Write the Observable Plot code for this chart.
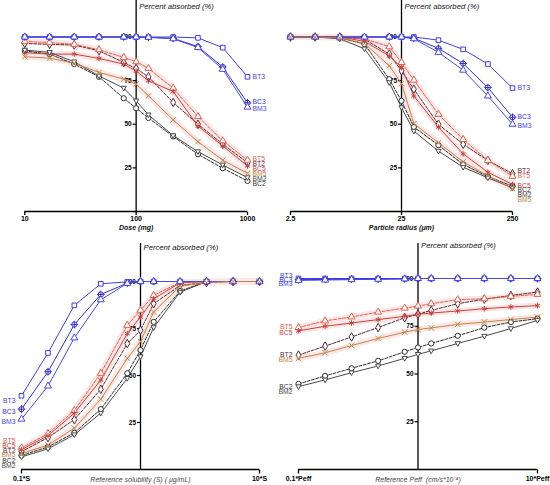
<!DOCTYPE html>
<html><head><meta charset="utf-8">
<script src="https://cdn.jsdelivr.net/npm/d3@7"></script>
<script src="https://cdn.jsdelivr.net/npm/@observablehq/plot@0.6"></script>
<style>
body{margin:0;background:#fff;}
#grid{display:grid;grid-template-columns:275px 275px;width:550px;font-family:"Liberation Sans",Arial,sans-serif;}
#grid svg{display:block;overflow:visible;}
</style></head><body><div id="grid"></div>
<script>
const series = ["BT2","BT3","BT5","BC2","BC3","BC5","BM2","BM3","BM5"];
const yTicks = [25, 50, 75, 100];

// Panel A: dose
const doseMg = [10, 16.7, 27.8, 46.4, 77.4, 100, 129, 215, 359, 599, 1000];
const doseAbs = {
  BT3: [100,100,100,100,100,100,100,100,99.5,93.9,77.2],
  BC3: [100,100,100,100,100,100,99.8,99.2,94.5,82.8,62.3],
  BM3: [100,100,100,100,100,100,99.8,99,94,81.5,59.8],
  BT5: [97.5,96.8,95.8,92.7,88.3,85.8,82,70.7,54.4,40.5,29.4],
  BT2: [96.3,95.8,95.4,92.1,85.4,82,77.2,62.5,50,38.6,28],
  BC5: [91,90.2,90.2,87.7,84.5,80.5,74.9,68.8,49,37.6,26.1],
  BM5: [88.7,87.9,85,79.7,75.9,73,66.3,52.5,40,29.4,21.9],
  BM2: [92.5,91.2,85.8,77.7,70.7,63.4,55.4,43.5,34.3,26.7,19.4],
  BC2: [92,90.2,84.5,77.2,64.9,59.2,53.6,43,32.8,24.8,17.5]
};
const doseTickLabels = ["10", "100", "1000"];
const doseLabelAt = {BT3:77.4, BC3:62.6, BM3:58.9, BT5:30.4, BT2:27.5, BC5:24.6, BM5:21.8, BM2:18.9, BC2:16};

// Panel B: particle radius
const radiusUm = [2.5, 4.17, 6.95, 11.6, 19.4, 25, 32.3, 53.8, 89.8, 150, 250];
const radiusAbs = {
  BT3: [100,100,100,100,100,100,100,98.2,92.9,84.5,70.7],
  BC3: [100,100,100,100,100,100,99.3,93.5,84.8,71,54],
  BM3: [100,100,100,100,100,100,99,91.2,81,66.2,50],
  BT5: [100,100,100,99,94.4,85.4,75.3,55.7,41.3,29.3,20.2],
  BT2: [100,100,100,98.8,90.2,80.6,70.1,50,38.5,29.3,21.6],
  BC5: [100,100,100,97.5,89.2,82.5,66.2,48.4,33,22.5,15.5],
  BM5: [100,100,99.5,96.3,83.5,73.3,50.3,39.4,28.5,20.5,13],
  BC2: [100,100,99.5,96,75.8,63.4,48.4,38,27,20,14.5],
  BM2: [100,100,99,93.2,73.9,59.5,46.1,34.6,25.4,19.3,13.5]
};
const radiusTickLabels = ["2.5", "25", "250"];
const radiusLabelAt = {BT3:70.9, BC3:54, BM3:49.3, BT2:23.3, BT5:20.6, BC5:14.9, BC2:12.4, BM2:9.7, BM5:6.6};

// Panel C: reference solubility multiple
const solubilityS = [0.1, 0.167, 0.278, 0.464, 0.774, 1, 1.29, 2.15, 3.59, 5.99, 10];
const solubilityAbs = {
  BT3: [39.2,62,87.3,98.8,99.8,100,100,100,100,100,100],
  BC3: [32.1,52,77.1,93.1,99.1,100,100,100,100,100,100],
  BM3: [26.8,44.4,70,90.3,99,100,100,100,100,100,100],
  BT5: [11.5,19,31.4,51.2,76.7,84.7,92.6,99.6,100,100,100],
  BC5: [10.6,18,30,47.6,72.3,81.1,90.8,99.3,100,100,100],
  BT2: [9.5,17,26.5,42.7,67,74.1,88.2,97.9,99.5,100,100],
  BM5: [8.5,13,22,37.4,59.1,68,83.8,97.5,99.5,100,100],
  BC2: [7.5,12,19.5,32.1,51.2,63.5,78.5,94.9,100,100,100],
  BM2: [6.7,11,18.5,30,48.5,60,75.5,94.3,100,100,100]
};
const solubilityTickLabels = ["0.1*S", "10*S"];
const solubilityLabelAt = {BT3:36.7, BC3:30.5, BM3:25.2, BT5:15, BC5:12.5, BT2:9.9, BM5:7.7, BC2:4.8, BM2:1.9};

// Panel D: reference Peff multiple
const peffX = [0.1, 0.167, 0.278, 0.464, 0.774, 1, 1.29, 2.15, 3.59, 5.99, 10];
const peffAbs = {
  BT3: [100,100,100,100,100,100,100,100,100,100,100],
  BC3: [99.4,99.5,99.6,99.7,99.8,100,100,100,100,100,100],
  BM3: [99,99.2,99.4,99.6,99.8,100,100,100,100,100,100],
  BT5: [74.3,77.8,79.9,82.4,84.5,85.6,86.8,88.9,89.4,90.6,91.7],
  BC5: [72.6,75,76.7,78.5,80.2,81.3,81.9,83,84.2,85.1,85.8],
  BT2: [59.9,64.6,69.4,74.3,79.5,81.3,83.3,86.8,89.2,91.1,92.9],
  BM5: [58.2,61.1,64.9,68.6,71.9,73.3,74.1,76,77.2,78.5,79.8],
  BC2: [44.8,49,53,56.9,61.6,63.9,66,70,74.3,77.2,79],
  BM2: [43.4,46.9,50.7,54.2,58.2,60.3,62.1,66,69.8,73.8,78.1]
};
const peffTickLabels = ["0.1*Peff", "10*Peff"];
const peffLabelAt = {BT3:101.2, BC3:99.5, BM3:97.2, BT5:74.5, BC5:71.8, BT2:60.1, BM5:57.4, BC2:43.1, BM2:40.5};

// styles
const triDown = {draw(ctx, size){ const r = Math.sqrt(size/Math.PI); ctx.moveTo(-r,-r*0.7); ctx.lineTo(r,-r*0.7); ctx.lineTo(0,r*1.1); ctx.closePath(); }};
const leftTick = {draw(ctx){ ctx.moveTo(-3.5,0); ctx.lineTo(0,0); }};
const downTick = (len) => ({draw(ctx){ ctx.moveTo(0,0); ctx.lineTo(0,len); }});
const style = {
  BT2:{color:"#5a2b33", dash:"3,1.5", sym:["diamond"]},
  BT3:{color:"#3f3fe0", sym:["square"]},
  BT5:{color:"#e0624f", dash:"3,1.5", sym:["triangle"]},
  BC2:{color:"#2f2f2f", dash:"3,1.5", sym:["circle"]},
  BC3:{color:"#3232c8", sym:["circle","plus"]},
  BC5:{color:"#c8413a", sym:["asterisk"]},
  BM2:{color:"#4a4a4a", sym:[triDown]},
  BM3:{color:"#4848e6", sym:["triangle"]},
  BM5:{color:"#c0874a", sym:["times"]}
};

function buildPanel(cfg){
  const xc = cfg.center;
  const xs = cfg.xs;
  const xEnd = cfg.labelSide === "right" ? xs[xs.length-1] : xs[0];
  const rows = s => cfg.abs[s].map((v,i) => ({x: xs[i], y: v}));
  const tickRows = cfg.axisTicks.map((v,i) => ({v, label: cfg.tickLabels[i]}));
  const marks = [];
  for (const s of ["BT5","BC5","BM5"]) marks.push(Plot.line(rows(s), {x:"x", y:"y", stroke:"#fce6e6", strokeWidth:6, strokeLinejoin:"round"}));
  marks.push(Plot.ruleY([0], {stroke:"#000", strokeWidth:1.6}));
  marks.push(Plot.dot(tickRows, {x: "v", frameAnchor: "bottom", symbol: downTick(cfg.tickSize), r: 3, stroke: "#000", strokeWidth: 1.3, fill: "none"}));
  marks.push(Plot.text(tickRows, {x: "v", frameAnchor: "bottom", text: "label", dy: cfg.tickLabelDy, fontSize: 7, fontWeight: "bold", fill: "#000", lineAnchor: "middle"}));
  marks.push(Plot.ruleX([xc], {stroke:"#000", strokeWidth:1.3}));
  marks.push(Plot.dot(yTicks, {x: () => xc, y: d => d, symbol: leftTick, r: 3, stroke:"#000", strokeWidth:1.2, fill:"none"}));
  marks.push(Plot.text(yTicks, {x: () => xc, y: d => d, text: d => String(d), dx: -4.5, textAnchor:"end", fontSize:6.5, fontWeight:"bold", fill:"#000", lineAnchor:"middle"}));
  for (const s of series){
    const st = style[s];
    marks.push(Plot.line(rows(s), {x:"x", y:"y", stroke: st.color, strokeWidth: 1, strokeDasharray: st.dash}));
  }
  for (const s of series){
    const st = style[s];
    st.sym.forEach((sym, k) => marks.push(Plot.dot(rows(s), {x:"x", y:"y", symbol: sym, r: 2.6, stroke: st.color, fill: k === 0 ? "white" : "none", strokeWidth: 1})));
  }
  for (const s of series){
    marks.push(Plot.text([s], {x: () => xEnd, y: () => cfg.labelAt[s], text: d => d, dx: cfg.labelSide === "right" ? 5 : -6, textAnchor: cfg.labelSide === "right" ? "start" : "end", fontSize: 6.8, fill: style[s].color, lineAnchor: "middle"}));
  }
  marks.push(Plot.text(["Percent absorbed (%)"], {x: () => xc, frameAnchor: "top", dy: cfg.pctDy, dx: 3, textAnchor: "start", fontStyle: "italic", fontSize: 7.7, fill: "#111", lineAnchor: "middle"}));
  marks.push(Plot.text([cfg.xTitle], {x: () => xc, frameAnchor: "bottom", dy: cfg.xTitleDy, fontSize: 7, fontStyle: "italic", fontWeight: cfg.titleBold ? "bold" : "normal", fill: cfg.titleColor, lineAnchor: "middle"}));
  return Plot.plot({
    width: 275, height: cfg.height,
    marginTop: cfg.mTop, marginBottom: cfg.height - cfg.yRange[0], marginLeft: cfg.mLeft, marginRight: cfg.mRight,
    x: {type: "log", domain: cfg.xDomain, label: null, axis: null},
    y: {domain: [0, 100], range: cfg.yRange, axis: null},
    style: {fontFamily: "Liberation Sans, Arial, sans-serif", background: "white", overflow: "visible"},
    marks
  });
}

const grid = document.getElementById("grid");
grid.append(buildPanel({xs: doseMg, abs: doseAbs, labelAt: doseLabelAt, center: 100, xDomain: [10, 1000],
  axisTicks: [10, 100, 1000], tickLabels: doseTickLabels, tickSize: 3.5, tickLabelDy: 7.5,
  xTitle: "Dose (mg)", titleBold: true, titleColor: "#111", height: 232, yRange: [211, 36.5], mTop: 0, mLeft: 24.3, mRight: 28,
  labelSide: "right", pctDy: 6, xTitleDy: 16}));
grid.append(buildPanel({xs: radiusUm, abs: radiusAbs, labelAt: radiusLabelAt, center: 25, xDomain: [2.5, 250],
  axisTicks: [2.5, 25, 250], tickLabels: radiusTickLabels, tickSize: 3.5, tickLabelDy: 7.5,
  xTitle: "Particle radius (μm)", titleBold: true, titleColor: "#111", height: 232, yRange: [211, 36.5], mTop: 0, mLeft: 15, mRight: 38,
  labelSide: "right", pctDy: 6, xTitleDy: 16}));
grid.append(buildPanel({xs: solubilityS, abs: solubilityAbs, labelAt: solubilityLabelAt, center: 1, xDomain: [0.1, 10],
  axisTicks: [0.1, 10], tickLabels: solubilityTickLabels, tickSize: 4, tickLabelDy: 9.5,
  xTitle: "Reference solubility (S) ( μg/mL)", titleBold: false, titleColor: "#444", height: 253, yRange: [237, 49], mTop: 11, mLeft: 21, mRight: 16,
  labelSide: "left", pctDy: 4.3, xTitleDy: 10}));
grid.append(buildPanel({xs: peffX, abs: peffAbs, labelAt: peffLabelAt, center: 1, xDomain: [0.1, 10],
  axisTicks: [0.1, 10], tickLabels: peffTickLabels, tickSize: 4, tickLabelDy: 9.5,
  xTitle: "Reference Peff  (cm/s*10⁻⁴)", titleBold: false, titleColor: "#444", height: 253, yRange: [237, 46], mTop: 11, mLeft: 23, mRight: 13,
  labelSide: "left", pctDy: 2, xTitleDy: 10}));
</script>
</body></html>
